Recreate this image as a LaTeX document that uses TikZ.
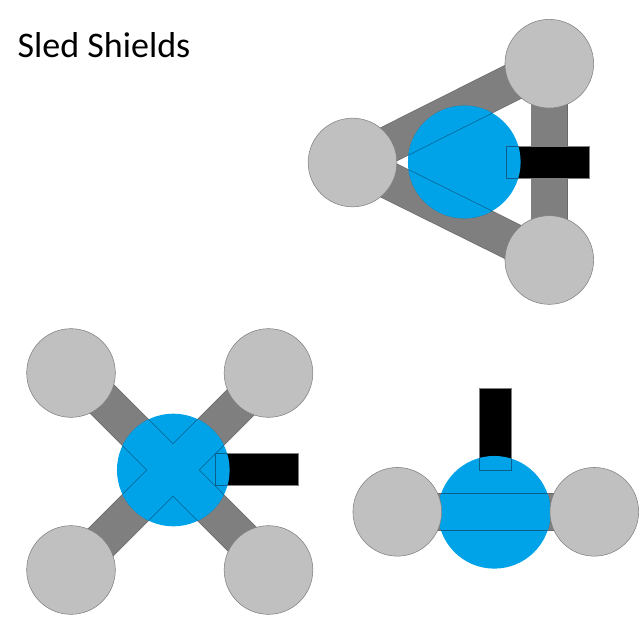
\documentclass[tikz,border=0pt]{standalone}
\usepackage{fontspec}
\setmainfont{Carlito}
\usetikzlibrary{backgrounds}
\definecolor{shieldblue}{RGB}{0,162,232}
\definecolor{sledgray}{RGB}{192,192,192}
\definecolor{bargray}{RGB}{127,127,127}
\definecolor{edgegray}{RGB}{105,105,105}
\definecolor{seamblue}{RGB}{10,95,140}
\tikzstyle{sled} = [circle, draw=bargray, fill=sledgray, line width=0.4pt, minimum size=66.5pt, inner sep=0pt, outer sep=0pt]
\tikzstyle{shield} = [circle, fill=shieldblue, minimum size=84.5pt, inner sep=0pt, outer sep=0pt]
\tikzstyle{flagh} = [rectangle, draw=bargray, fill=black, line width=0.4pt, minimum width=62pt, minimum height=24pt, inner sep=0pt, outer sep=0pt]
\tikzstyle{flagv} = [flagh, minimum width=24pt, minimum height=62pt]
\tikzstyle{baredge} = [line width=28.2pt, draw=edgegray]
\tikzstyle{barbody} = [line width=27.2pt, draw=bargray]
\tikzstyle{seamedge} = [line width=28.2pt, draw=seamblue]
\tikzstyle{seambody} = [line width=27.2pt, draw=shieldblue]

\begin{document}
\begin{tikzpicture}[x=0.75pt, y=-0.75pt]
    \useasboundingbox (0,0) rectangle (640,635);
    \node (title) [anchor=west, font=\fontsize{27}{32}\selectfont] at (13,45) {Sled Shields};

    % three sleds
    \node (ta) [sled] at (352.5,162.5) {};
    \node (tb) [sled] at (549.3,63.7) {};
    \node (tc) [sled] at (549.3,260) {};
    % four sleds
    \node (xa) [sled] at (71,373) {};
    \node (xb) [sled] at (268.5,373) {};
    \node (xc) [sled] at (71,570) {};
    \node (xd) [sled] at (268.5,570) {};
    \coordinate (xae) at (98,395);
    \coordinate (xbe) at (248,395);
    \coordinate (xce) at (98,545);
    \coordinate (xde) at (248,545);
    % two sleds
    \node (ba) [sled] at (397.3,511.8) {};
    \node (bb) [sled] at (594.3,511.8) {};

    \begin{scope}[on background layer]
        \foreach \from/\to in {ta/tb,ta/tc,tb/tc,ba/bb} \draw [baredge] (\from.center) -- (\to.center);
        \foreach \from/\to in {ta/tb,ta/tc,tb/tc,ba/bb} \draw [barbody] (\from.center) -- (\to.center);
        \foreach \from/\to in {xae/xde,xbe/xce} \draw [baredge] (\from) -- (\to);
        \foreach \from/\to in {xae/xde,xbe/xce} \draw [barbody] (\from) -- (\to);

        \node (tf) [flagh] at (547.6,162.3) {};
        \node (xf) [flagh] at (256.8,469.3) {};
        \node (bf) [flagv] at (495.7,429.3) {};

        \node (ts) [shield] at (464.3,162) {};
        \node (xs) [shield] at (173.3,470) {};
        \node (bs) [shield] at (494.3,512.3) {};

        % seams seen through the shields
        \begin{scope}
            \clip (ts.center) circle [radius=56.3];
            \foreach \from/\to in {ta/tb,ta/tc} \draw [seamedge] (\from.center) -- (\to.center);
            \foreach \from/\to in {ta/tb,ta/tc} \draw [seambody] (\from.center) -- (\to.center);
            \draw [seamblue, line width=0.5pt] (tf.north west) rectangle (tf.south east);
        \end{scope}
        \begin{scope}
            \clip (xs.center) circle [radius=56.3];
            \foreach \from/\to in {xae/xde,xbe/xce} \draw [seamedge] (\from) -- (\to);
            \foreach \from/\to in {xae/xde,xbe/xce} \draw [seambody] (\from) -- (\to);
            \draw [seamblue, line width=0.5pt] (xf.north west) rectangle (xf.south east);
        \end{scope}
        \begin{scope}
            \clip (bs.center) circle [radius=56.3];
            \draw [seamedge] (ba.center) -- (bb.center);
            \draw [seambody] (ba.center) -- (bb.center);
            \draw [seamblue, line width=0.5pt] (bf.north west) rectangle (bf.south east);
        \end{scope}
    \end{scope}
\end{tikzpicture}
\end{document}
